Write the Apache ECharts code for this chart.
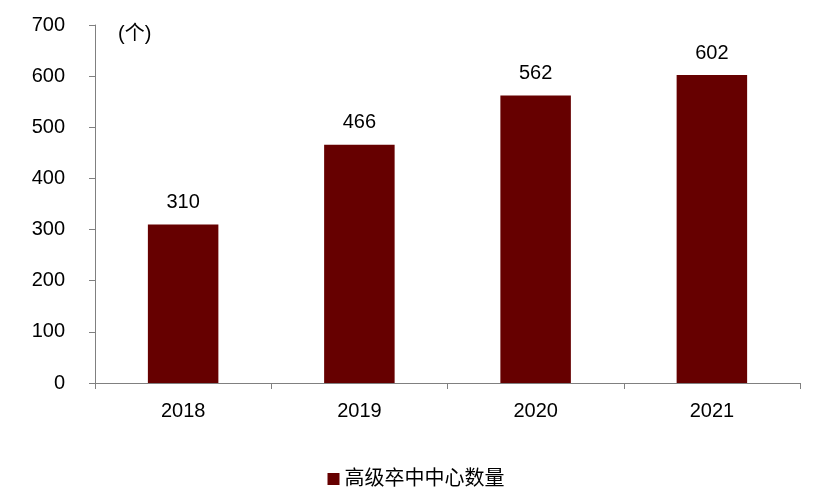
<!DOCTYPE html>
<html>
<head>
<meta charset="utf-8">
<script src="https://cdn.jsdelivr.net/npm/echarts@6/dist/echarts.min.js"></script>
<style>html,body{margin:0;padding:0;background:#fff}</style>
</head>
<body>
<div id="main" style="width:832px;height:504px"></div>
<script>
var categories = ['2018', '2019', '2020', '2021'];
var centerCounts = [310, 466, 562, 602];
var seriesName = '高级卒中中心数量';

var myChart = echarts.init(document.getElementById('main'));
var font = 'Liberation Sans, Noto Sans CJK SC, sans-serif';
myChart.setOption({
  backgroundColor: '#fff',
  animation: false,
  grid: { left: 95, right: 32, top: 25, bottom: 121 },
  graphic: [{
    type: 'text', left: 118, top: 24,
    style: { text: '(个)', font: '20px ' + font, fill: '#000' }
  }],
  legend: {
    bottom: 10, left: 'center',
    icon: 'rect', itemWidth: 12, itemHeight: 12,
    textStyle: { fontSize: 20, color: '#000', fontFamily: font },
    data: [seriesName]
  },
  xAxis: {
    type: 'category',
    data: categories,
    axisLine: { lineStyle: { color: '#808080' } },
    axisTick: { show: true, alignWithLabel: false, length: 6, lineStyle: { color: '#808080' } },
    axisLabel: { fontSize: 20, color: '#000', fontFamily: font, margin: 18 }
  },
  yAxis: {
    type: 'value', min: 0, max: 700, interval: 100,
    axisLine: { show: true, lineStyle: { color: '#808080' } },
    axisTick: { show: true, length: 6, lineStyle: { color: '#808080' } },
    splitLine: { show: false },
    axisLabel: { fontSize: 20, color: '#000', fontFamily: font, margin: 30 }
  },
  series: [{
    name: seriesName,
    type: 'bar',
    barWidth: '40%',
    data: centerCounts,
    itemStyle: { color: '#660000' },
    label: { show: true, position: 'top', distance: 12, fontSize: 20, color: '#000', fontFamily: font }
  }]
});
</script>
</body>
</html>
